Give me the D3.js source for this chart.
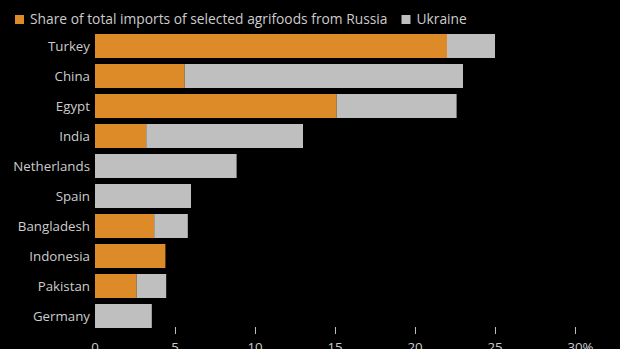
<!DOCTYPE html>
<html>
<head>
<meta charset="utf-8">
<script src="https://cdn.jsdelivr.net/npm/d3@7"></script>
<style>
  html, body { margin: 0; padding: 0; background: #000; }
  svg { display: block; }
  text { font-family: "Open Sans", "Noto Sans", sans-serif; font-size: 13.3px; fill: #cccccc; }
  .legend text { font-size: 13.8px; }
</style>
</head>
<body>
<svg id="chart" width="620" height="349"></svg>
<script>
// Share of total imports of selected agrifoods (%), by origin
const countries = ["Turkey", "China", "Egypt", "India", "Netherlands", "Spain", "Bangladesh", "Indonesia", "Pakistan", "Germany"];
const russia  = [22.0, 5.6, 15.1, 3.2, 0, 0, 3.7, 4.4, 2.6, 0];
const ukraine = [3.0, 17.4, 7.5, 9.8, 8.85, 6.0, 2.1, 0, 1.85, 3.55];
const xTicks = [0, 5, 10, 15, 20, 25, 30];
const seriesNames = ["Share of total imports of selected agrifoods from Russia", "Ukraine"];
const colors = ["#dc8b28", "#bfbfbf"];

const svg = d3.select("#chart");

const x = d3.scaleLinear().domain([0, 30]).range([95, 575]);
const y = d3.scaleBand().domain(countries).range([31, 331]).paddingInner(0.2).paddingOuter(0.1);

const rows = countries.map((c, i) => ({ country: c, russia: russia[i], ukraine: ukraine[i] }));
const stacked = d3.stack().keys(["russia", "ukraine"])(rows);

// Stacked bars
svg.append("g").selectAll("g")
  .data(stacked)
  .join("g")
  .attr("fill", (d, i) => colors[i])
  .selectAll("rect")
  .data(d => d.filter(s => s[1] - s[0] > 0))
  .join("rect")
  .attr("x", d => x(d[0]))
  .attr("y", d => y(d.data.country))
  .attr("width", d => x(d[1]) - x(d[0]))
  .attr("height", y.bandwidth());

// Category labels
svg.append("g").selectAll("text")
  .data(countries)
  .join("text")
  .attr("x", 90)
  .attr("y", d => y(d) + y.bandwidth() / 2)
  .attr("dy", "0.35em")
  .attr("text-anchor", "end")
  .text(d => d);

// Bottom axis: short ticks, no domain line, no tick at zero
const axis = svg.append("g").attr("transform", "translate(0,327)");
axis.selectAll("line")
  .data(xTicks.filter(t => t > 0))
  .join("line")
  .attr("x1", d => x(d) + 0.5).attr("x2", d => x(d) + 0.5)
  .attr("y1", 0).attr("y2", 7)
  .attr("stroke", "#bbbbbb").attr("stroke-width", 1);
axis.selectAll("text")
  .data(xTicks)
  .join("text")
  .attr("x", d => x(d))
  .attr("y", 25)
  .attr("text-anchor", "middle")
  .text(d => d);
// percent sign trailing the last tick value
const lastLabel = axis.selectAll("text").filter(d => d === 30).node();
const lastBox = lastLabel.getBBox();
axis.append("text")
  .attr("x", lastBox.x + lastBox.width)
  .attr("y", 25)
  .text("%");

// Legend
const legend = svg.append("g").attr("class", "legend");
let lx = 15;
seriesNames.forEach((name, i) => {
  legend.append("rect")
    .attr("x", lx).attr("y", 15).attr("width", 9).attr("height", 9)
    .attr("fill", colors[i]);
  const t = legend.append("text")
    .attr("x", lx + 15).attr("y", 24)
    .text(name);
  lx = lx + 15 + t.node().getComputedTextLength() + 14;
});
</script>
</body>
</html>
